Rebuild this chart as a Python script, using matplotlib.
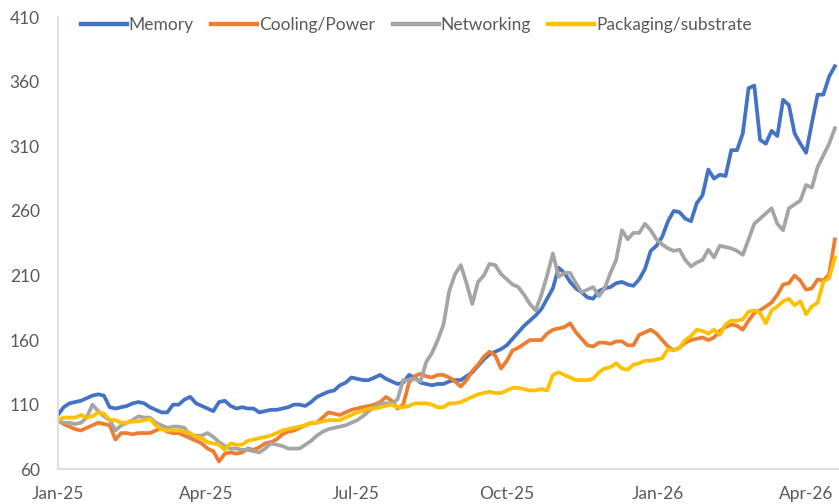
import matplotlib
matplotlib.use("Agg")
import matplotlib.pyplot as plt
import matplotlib.dates as mdates
import pandas as pd

# ---- data (twice-weekly readings, Jan-2025 .. Apr-2026) ----
dates = pd.date_range("2025-01-01", periods=136, freq="84h")

memory = [102, 108, 111, 112, 113, 115, 117, 118, 117, 108, 107, 108, 109, 111, 112, 111, 108, 106, 104, 104,
          110, 110, 114, 116, 111, 109, 107, 105, 112, 113, 109, 107, 108, 107, 107, 104, 105, 106, 106, 107,
          108, 110, 110, 109, 112, 116, 118, 120, 121, 125, 127, 131, 130, 129, 129, 131, 133, 130, 128, 126,
          127, 133, 131, 127, 126, 125, 126, 126, 128, 129, 129, 132, 135, 140, 145, 149, 151, 153, 156, 161,
          166, 171, 175, 179, 184, 192, 200, 216, 212, 205, 200, 197, 193, 192, 198, 200, 201, 204, 205, 203,
          202, 207, 215, 229, 233, 240, 252, 260, 259, 254, 252, 266, 272, 292, 285, 288, 287, 307, 307, 320,
          355, 357, 315, 312, 322, 318, 346, 342, 320, 312, 305, 328, 350, 350, 364, 372]

cooling = [98, 95, 93, 91, 90, 92, 94, 96, 95, 94, 83, 88, 88, 87, 88, 88, 88, 90, 92, 89,
           88, 88, 86, 84, 82, 80, 76, 74, 66, 72, 73, 72, 73, 76, 75, 77, 80, 81, 83, 87,
           89, 90, 92, 94, 96, 96, 100, 104, 103, 102, 104, 106, 107, 108, 109, 110, 112, 116, 113, 107,
           110, 127, 132, 134, 132, 131, 133, 133, 131, 128, 124, 129, 136, 141, 147, 151, 148, 138, 144, 152,
           154, 157, 160, 160, 160, 165, 168, 169, 170, 173, 166, 161, 156, 155, 158, 158, 157, 159, 159, 156,
           156, 164, 166, 168, 165, 160, 155, 152, 154, 158, 160, 161, 162, 160, 162, 167, 170, 172, 171, 168,
           175, 181, 183, 186, 189, 195, 203, 204, 210, 206, 199, 200, 207, 206, 211, 238]

networking = [97, 96, 96, 95, 96, 100, 110, 105, 101, 98, 90, 94, 96, 98, 101, 100, 100, 96, 94, 92,
              93, 93, 92, 86, 86, 86, 88, 85, 81, 78, 76, 76, 75, 75, 74, 73, 76, 80, 79, 78,
              76, 76, 76, 79, 82, 86, 89, 91, 92, 93, 94, 96, 98, 101, 105, 108, 111, 111, 111, 114,
              129, 129, 130, 128, 143, 150, 160, 172, 198, 211, 218, 204, 188, 205, 210, 219, 218, 211, 207, 203,
              201, 195, 188, 183, 195, 210, 227, 209, 212, 212, 204, 197, 199, 201, 194, 200, 212, 222, 245, 238,
              243, 243, 250, 245, 238, 234, 231, 229, 230, 222, 217, 220, 222, 230, 224, 233, 232, 231, 229, 226,
              238, 250, 254, 258, 262, 250, 245, 262, 265, 268, 280, 278, 294, 303, 312, 324]

packaging = [98, 100, 100, 100, 102, 100, 101, 104, 103, 98, 98, 96, 96, 97, 97, 98, 99, 94, 91, 90,
             90, 90, 89, 88, 85, 84, 81, 80, 79, 75, 80, 79, 79, 82, 83, 84, 85, 86, 88, 90,
             91, 92, 93, 94, 96, 96, 97, 98, 98, 98, 100, 102, 104, 105, 107, 107, 108, 109, 110, 108,
             108, 109, 111, 111, 111, 110, 108, 108, 111, 111, 112, 114, 116, 118, 119, 120, 119, 119, 121, 123,
             123, 122, 121, 121, 122, 121, 133, 135, 133, 131, 129, 129, 129, 130, 135, 138, 139, 142, 138, 137,
             141, 142, 144, 144, 145, 146, 153, 152, 154, 160, 163, 168, 167, 165, 168, 164, 172, 175, 175, 176,
             182, 183, 181, 173, 183, 186, 190, 192, 187, 190, 180, 186, 189, 205, 208, 224]

series_names = ["Memory", "Cooling/Power", "Networking", "Packaging/substrate"]
colors = ["#4472C4", "#ED7D31", "#A5A5A5", "#FFC000"]
y_ticks = [60, 110, 160, 210, 260, 310, 360, 410]

# ---- plot ----
plt.rcParams["font.family"] = ["Lato", "DejaVu Sans"]
text_color = "#595959"

fig = plt.figure(figsize=(8.39, 5.04), dpi=100)
ax = fig.add_axes([0.069, 0.069, 0.931, 0.897])

for name, vals, c in zip(series_names, [memory, cooling, networking, packaging], colors):
    ax.plot(dates, vals, color=c, lw=2.7, label=name, solid_joinstyle="round")

ax.set_ylim(60, 410)
ax.set_yticks(y_ticks)
ax.set_xlim(pd.Timestamp("2025-01-01"), pd.Timestamp("2026-04-21"))
ax.xaxis.set_major_locator(mdates.MonthLocator(bymonth=[1, 4, 7, 10]))
ax.xaxis.set_major_formatter(mdates.DateFormatter("%b-%y"))

for s in ["top", "right"]:
    ax.spines[s].set_visible(False)
for s in ["left", "bottom"]:
    ax.spines[s].set_color("#D9D9D9")
    ax.spines[s].set_linewidth(1.2)

ax.tick_params(axis="both", length=0, labelsize=12.5, colors=text_color)
ax.tick_params(axis="y", pad=13)
ax.tick_params(axis="x", pad=12)

leg = ax.legend(loc="upper center", bbox_to_anchor=(0.459, 1.035), ncol=4, frameon=False,
                fontsize=12.5, handlelength=2.65, handletextpad=0.12, columnspacing=1.0)
for t in leg.get_texts():
    t.set_color(text_color)
for l in leg.get_lines():
    l.set_linewidth(3.2)

fig.savefig("out.png", dpi=100)
